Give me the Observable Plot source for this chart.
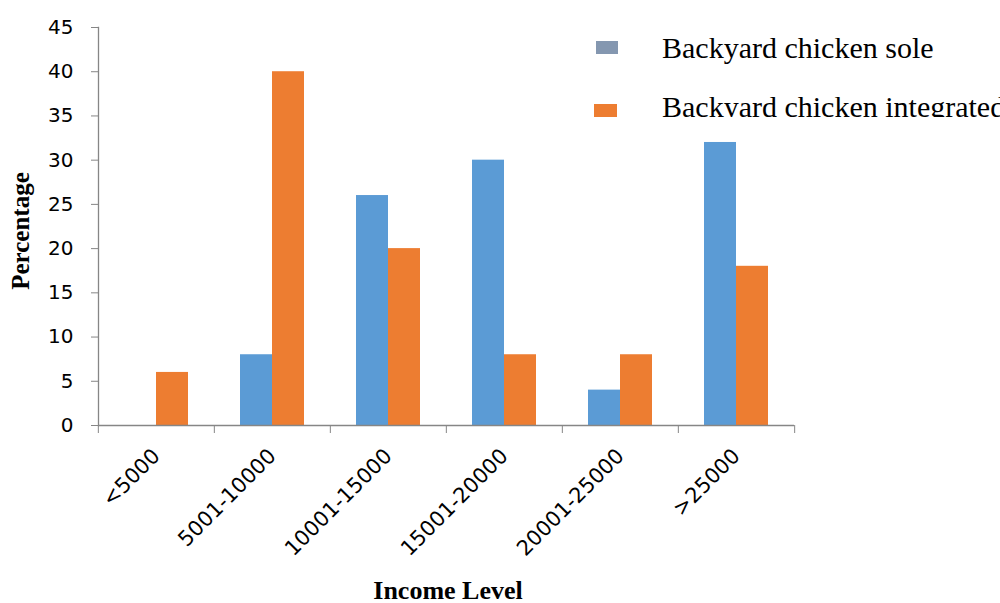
<!DOCTYPE html>
<html>
<head>
<meta charset="utf-8">
<script src="https://cdn.jsdelivr.net/npm/d3@7"></script>
<script src="https://cdn.jsdelivr.net/npm/@observablehq/plot@0.6"></script>
<style>
  body { margin: 0; background: #fff; }
  #wrap { position: relative; width: 1000px; height: 603px; overflow: hidden; background: #fff; }
  #chart svg { display: block; }
  .serif { position: absolute; font-family: "Liberation Serif", "Times New Roman", serif; color: #000; white-space: nowrap; }
  #xlabel { font-size: 26px; line-height: 22px; font-weight: bold; left: 448px; top: 580px; transform: translateX(-50%); }
  #ylabel { font-size: 25px; line-height: 25px; font-weight: bold; left: 20px; top: 231px; transform: translate(-50%, -50%) rotate(-90deg); }
  #legend { position: absolute; left: 580px; top: 0; width: 420px; height: 117px; overflow: hidden; }
  .sw { position: absolute; }
  .lt { font-size: 30px; line-height: 30px; left: 82px; }
</style>
</head>
<body>
<div id="wrap">
  <div id="chart"></div>
  <div id="ylabel" class="serif"></div>
  <div id="xlabel" class="serif"></div>
  <div id="legend"></div>
</div>
<script>
const categories = ["<5000", "5001-10000", "10001-15000", "15001-20000", "20001-25000", ">25000"];
const seriesNames = ["Backyard chicken sole", "Backyard chicken integrated"];
const soleValues = [0, 8, 26, 30, 4, 32];
const integratedValues = [6, 40, 20, 8, 8, 18];
const yTicks = [0, 5, 10, 15, 20, 25, 30, 35, 40, 45];
const barColors = ["#5B9BD5", "#ED7D31"];
const legendColors = ["#8497B0", "#ED7D31"];
const xTitle = "Income Level";
const yTitle = "Percentage";

const data = categories.flatMap((c, i) => [
  {cat: c, series: seriesNames[0], value: soleValues[i]},
  {cat: c, series: seriesNames[1], value: integratedValues[i]}
]);

const W = 1000, H = 603, ML = 97, MR = 205, MT = 27, MB = 178;
const step = (W - ML - MR) / categories.length;
const axisGray = "#868686";

const chart = Plot.plot({
  width: W, height: H,
  marginLeft: ML, marginRight: MR, marginTop: MT, marginBottom: MB,
  style: {fontFamily: "DejaVu Sans", fontSize: "20px", color: "#000", background: "#fff", overflow: "visible"},
  fx: {domain: categories, padding: 0, label: null},
  x: {domain: seriesNames, paddingInner: 0, paddingOuter: 0.79, axis: null},
  y: {domain: [0, 45], label: null},
  color: {domain: seriesNames, range: barColors},
  marks: [
    Plot.barY(data, {fx: "cat", x: "series", y: "value", fill: "series"}),
    Plot.ruleY([0], {stroke: axisGray, strokeWidth: 1.3}),
    Plot.frame({anchor: "left", facetAnchor: "left", stroke: axisGray, strokeWidth: 1.3}),
    Plot.axisY({ticks: yTicks, tickSize: 7, tickPadding: 18, stroke: axisGray, label: null, facetAnchor: "left", fontSize: 20}),
    Plot.axisFx({anchor: "bottom", tickSize: 0, tickRotate: -45, tickPadding: 27, label: null, fontSize: 21}),
    Plot.axisFx({anchor: "bottom", tickSize: 8, tickFormat: () => "", dx: -step / 2, stroke: axisGray, label: null}),
    Plot.axisFx({anchor: "bottom", ticks: [categories[categories.length - 1]], tickSize: 8, tickFormat: () => "", dx: step / 2, stroke: axisGray, label: null})
  ]
});
document.getElementById("chart").appendChild(chart);
document.getElementById("xlabel").textContent = xTitle;
document.getElementById("ylabel").textContent = yTitle;

const legend = document.getElementById("legend");
const swatchBoxes = [{l: 16, t: 41, w: 22, h: 13}, {l: 14, t: 104, w: 23, h: 14}];
const textTops = [33, 92];
seriesNames.forEach((s, i) => {
  const sw = document.createElement("div");
  sw.className = "sw";
  Object.assign(sw.style, {left: swatchBoxes[i].l + "px", top: swatchBoxes[i].t + "px", width: swatchBoxes[i].w + "px", height: swatchBoxes[i].h + "px", background: legendColors[i]});
  legend.appendChild(sw);
  const t = document.createElement("div");
  t.className = "serif lt";
  t.style.top = textTops[i] + "px";
  t.textContent = s;
  legend.appendChild(t);
});
</script>
</body>
</html>
